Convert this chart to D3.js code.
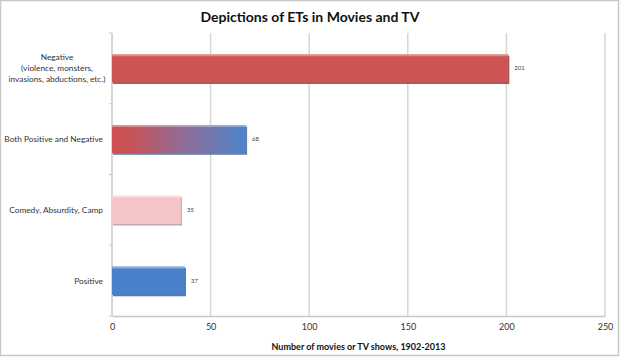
<!DOCTYPE html>
<html><head><meta charset="utf-8">
<script src="https://cdn.jsdelivr.net/npm/d3@7"></script>
<style>
html,body{margin:0;padding:0;background:#fff;}
svg{display:block;}
</style></head>
<body>
<svg id="chart" width="620" height="357"></svg>
<script>
const categories = [
  ["Negative", "(violence, monsters,", "invasions, abductions, etc.)"],
  ["Both Positive and Negative"],
  ["Comedy, Absurdity, Camp"],
  ["Positive"]
];
const values = [201, 68, 35, 37];
const fills = ["neg", "both", "comedy", "pos"];
const xTicks = [0, 50, 100, 150, 200, 250];
const title = "Depictions of ETs in Movies and TV";
const xTitle = "Number of movies or TV shows, 1902-2013";

const svg = d3.select("#chart");
const font = "Lato, 'Open Sans', sans-serif";
const m = {left: 112, right: 15, top: 33, bottom: 41};
const W = 620, H = 357;

svg.append("rect").attr("x", 0.5).attr("y", 0.5).attr("width", W - 2).attr("height", H - 2)
  .attr("fill", "#fff").attr("stroke", "#c8c8c8").attr("stroke-width", 1.5);

const x = d3.scaleLinear().domain([0, 250]).range([m.left, W - m.right]);
const y = d3.scaleBand().domain(d3.range(categories.length)).range([m.top, H - m.bottom]).paddingInner(0.6).paddingOuter(0.3);

const defs = svg.append("defs");
const gBoth = defs.append("linearGradient").attr("id", "both").attr("x1", "0").attr("x2", "1").attr("y1", "0").attr("y2", "0");
gBoth.append("stop").attr("offset", "0").attr("stop-color", "#cf5050");
gBoth.append("stop").attr("offset", "0.15").attr("stop-color", "#c65459");
gBoth.append("stop").attr("offset", "0.5").attr("stop-color", "#946a92");
gBoth.append("stop").attr("offset", "1").attr("stop-color", "#4c84cc");
const solid = {neg: "#cc5452", comedy: "#f4c5c6", pos: "#4a80c9"};
const edge = {neg: "#8e3634", both: "#3f5f8c", comedy: "#b59696", pos: "#2f5787"};

// gridlines
svg.append("g").selectAll("line").data(xTicks.slice(1)).join("line")
  .attr("x1", d => x(d)).attr("x2", d => x(d)).attr("y1", m.top).attr("y2", H - m.bottom)
  .attr("stroke", "#d6d6d6").attr("stroke-width", 1.5);

// axes
const xAxis = svg.append("g").attr("transform", `translate(0,${H - m.bottom})`)
  .call(d3.axisBottom(x).tickValues(xTicks).tickSize(0).tickPadding(8));
xAxis.select(".domain").attr("stroke", "#c8c8c8").attr("stroke-width", 1.5);
xAxis.selectAll("text").attr("font-family", font).attr("font-size", 9).attr("fill", "#333");

svg.append("line").attr("x1", m.left).attr("x2", m.left).attr("y1", m.top).attr("y2", H - m.bottom)
  .attr("stroke", "#c8c8c8").attr("stroke-width", 1.5);
svg.append("g").selectAll("line").data(d3.range(categories.length + 1)).join("line")
  .attr("x1", m.left - 3).attr("x2", m.left)
  .attr("y1", d => m.top + (H - m.bottom - m.top) * d / categories.length)
  .attr("y2", d => m.top + (H - m.bottom - m.top) * d / categories.length)
  .attr("stroke", "#c8c8c8").attr("stroke-width", 1);

// bars
const bars = svg.append("g").selectAll("g").data(values).join("g");
bars.append("rect")
  .attr("x", x(0) + 1).attr("y", (d, i) => y(i) + 1.5)
  .attr("width", d => x(d) - x(0)).attr("height", y.bandwidth())
  .attr("fill", (d, i) => edge[fills[i]]).attr("opacity", 0.8);
bars.append("rect")
  .attr("x", x(0)).attr("y", (d, i) => y(i))
  .attr("width", d => x(d) - x(0)).attr("height", y.bandwidth())
  .attr("fill", (d, i) => fills[i] === "both" ? "url(#both)" : solid[fills[i]]);
bars.append("rect")
  .attr("x", x(0)).attr("y", (d, i) => y(i))
  .attr("width", d => x(d) - x(0)).attr("height", 2)
  .attr("fill", "#fff").attr("opacity", 0.35);

// value labels
bars.append("text")
  .attr("x", d => x(d) + 6).attr("y", (d, i) => y(i) + y.bandwidth() / 2 + 2)
  .attr("font-family", font).attr("font-size", 6).attr("fill", "#444")
  .text(d => d);

// category labels
const labels = svg.append("g").selectAll("text").data(categories).join("text")
  .attr("font-family", font).attr("font-size", 8.3).attr("fill", "#333")
  .attr("x", 57)
  .attr("y", (d, i) => y(i) + y.bandwidth() / 2 + 3 - (d.length - 1) * 5.5);
labels.selectAll("tspan").data(d => d).join("tspan")
  .attr("x", (d, j, n) => n.length === 1 ? 103 : 57)
  .attr("dy", (d, j) => j === 0 ? 0 : 11)
  .text(d => d);
labels.attr("text-anchor", d => d.length === 1 ? "end" : "middle");

// title
svg.append("text").attr("x", 310).attr("y", 22).attr("text-anchor", "middle")
  .attr("font-family", font).attr("font-weight", "bold").attr("font-size", 14).attr("fill", "#111")
  .text(title);
svg.append("text").attr("x", (x(0) + x(250)) / 2).attr("y", 350).attr("text-anchor", "middle")
  .attr("font-family", font).attr("font-weight", "bold").attr("font-size", 9).attr("fill", "#111")
  .text(xTitle);
</script>
</body></html>
